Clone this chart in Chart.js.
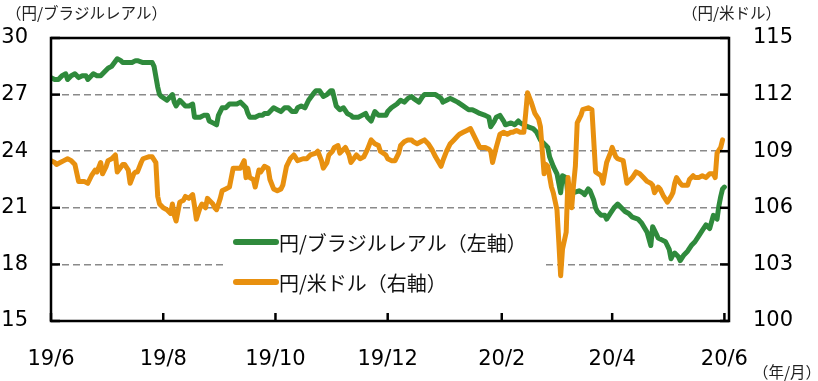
<!DOCTYPE html>
<html><head><meta charset="utf-8">
<script src="https://cdn.jsdelivr.net/npm/chart.js@4/dist/chart.umd.min.js"></script>
<style>html,body{margin:0;padding:0;background:#fff;}canvas{display:block;}</style>
</head><body>
<canvas id="c" width="818" height="381"></canvas>
<script>
// ---- data ----
const startDate = '2019-06-01';
const tickDates = ['2019-06-01','2019-08-01','2019-10-01','2019-12-01','2020-02-01','2020-04-01','2020-06-01'];
const tickLabels = ['19/6','19/8','19/10','19/12','20/2','20/4','20/6'];
const leftTicks = [15,18,21,24,27,30];
const rightTicks = [100,103,106,109,112,115];
const seriesNames = ['円/ブラジルレアル（左軸）','円/米ドル（右軸）'];

const brlDates = [
'2019-06-01','2019-06-03','2019-06-05','2019-06-07','2019-06-09','2019-06-10','2019-06-12','2019-06-14','2019-06-16','2019-06-18','2019-06-20','2019-06-21','2019-06-24','2019-06-26','2019-06-28','2019-06-30',
'2019-07-02','2019-07-04','2019-07-07','2019-07-09','2019-07-10','2019-07-13','2019-07-15','2019-07-17','2019-07-18','2019-07-21','2019-07-24','2019-07-26','2019-07-27','2019-07-29','2019-07-30','2019-07-31',
'2019-08-03','2019-08-06','2019-08-07','2019-08-08','2019-08-10','2019-08-12','2019-08-13','2019-08-15','2019-08-17','2019-08-18','2019-08-21','2019-08-23','2019-08-25','2019-08-26','2019-08-28','2019-08-30','2019-08-31',
'2019-09-02','2019-09-04','2019-09-06','2019-09-08','2019-09-10','2019-09-12','2019-09-13','2019-09-15','2019-09-16','2019-09-17','2019-09-20','2019-09-22','2019-09-24','2019-09-25','2019-09-27','2019-09-30',
'2019-10-02','2019-10-04','2019-10-06','2019-10-08','2019-10-10','2019-10-12','2019-10-13','2019-10-15','2019-10-17','2019-10-19','2019-10-22','2019-10-23','2019-10-25','2019-10-27','2019-10-29','2019-10-31',
'2019-11-01','2019-11-03','2019-11-05','2019-11-07','2019-11-09','2019-11-11','2019-11-12','2019-11-15','2019-11-17','2019-11-19','2019-11-20','2019-11-22','2019-11-24','2019-11-26','2019-11-27','2019-11-30',
'2019-12-01','2019-12-03','2019-12-06','2019-12-08','2019-12-10','2019-12-12','2019-12-14','2019-12-15','2019-12-18','2019-12-20','2019-12-21','2019-12-23','2019-12-25','2019-12-27','2019-12-30','2019-12-31',
'2020-01-02','2020-01-04','2020-01-06','2020-01-08','2020-01-11','2020-01-14','2020-01-16','2020-01-18','2020-01-20','2020-01-23','2020-01-25','2020-01-26','2020-01-28','2020-01-29','2020-01-31',
'2020-02-02','2020-02-03','2020-02-06','2020-02-08','2020-02-10','2020-02-11','2020-02-13','2020-02-15','2020-02-18','2020-02-20','2020-02-22','2020-02-24','2020-02-25','2020-02-26','2020-02-27','2020-02-29',
'2020-03-02','2020-03-03','2020-03-04','2020-03-05','2020-03-07','2020-03-08','2020-03-09','2020-03-11','2020-03-14','2020-03-16','2020-03-17','2020-03-19','2020-03-20','2020-03-22','2020-03-23','2020-03-24','2020-03-26','2020-03-28','2020-03-29','2020-03-31',
'2020-04-02','2020-04-04','2020-04-06','2020-04-08','2020-04-10','2020-04-12','2020-04-15','2020-04-17','2020-04-20','2020-04-22','2020-04-23','2020-04-25','2020-04-26','2020-04-28','2020-04-30',
'2020-05-02','2020-05-03','2020-05-04','2020-05-05','2020-05-07','2020-05-08','2020-05-10','2020-05-12','2020-05-14','2020-05-16','2020-05-18','2020-05-20','2020-05-22','2020-05-23','2020-05-24','2020-05-26','2020-05-28','2020-05-29','2020-05-30','2020-05-31','2020-06-01'
];
const brlValues = [
27.9,27.8,27.8,28.0,28.1,27.8,28.0,28.1,27.9,28.0,28.0,27.8,28.1,28.0,28.0,28.2,
28.4,28.5,28.9,28.8,28.7,28.7,28.7,28.8,28.8,28.7,28.7,28.7,28.5,27.4,27.0,26.9,
26.7,27.0,26.6,26.4,26.7,26.5,26.4,26.4,26.5,25.8,25.8,25.9,25.9,25.6,25.5,25.4,25.9,
26.3,26.3,26.5,26.5,26.5,26.6,26.5,26.3,26.0,25.8,25.8,25.9,25.9,26.0,26.0,26.3,
26.2,26.1,26.3,26.3,26.1,26.1,26.3,26.4,26.3,26.7,27.1,27.2,27.2,26.9,27.0,27.2,
27.2,26.4,26.2,26.3,26.0,25.9,25.8,25.8,25.9,26.0,25.8,25.6,26.1,25.9,25.9,25.9,
26.1,26.3,26.5,26.7,26.6,26.8,26.9,26.8,26.6,26.9,27.0,27.0,27.0,27.0,26.8,26.6,
26.7,26.8,26.7,26.6,26.4,26.2,26.2,26.1,26.0,25.9,25.8,25.3,25.6,25.8,25.9,
25.6,25.4,25.5,25.4,25.6,25.5,25.4,25.3,25.2,25.0,24.6,24.4,24.3,24.2,23.7,23.2,
22.8,22.3,21.8,22.7,22.6,21.6,21.8,21.8,21.9,21.8,21.7,22.0,21.9,21.4,21.0,20.8,20.6,20.6,20.4,20.7,
21.0,21.2,21.0,20.8,20.7,20.5,20.4,20.2,19.7,19.0,20.0,19.6,19.4,19.3,19.2,
18.8,18.3,18.5,18.6,18.4,18.2,18.5,18.7,19.0,19.2,19.5,19.8,20.1,20.0,19.9,20.6,20.4,21.1,21.6,22.0,22.1
];

const usdDates = [
'2019-06-01','2019-06-03','2019-06-04','2019-06-06','2019-06-08','2019-06-10','2019-06-12','2019-06-14','2019-06-16','2019-06-18','2019-06-19','2019-06-21','2019-06-23','2019-06-25','2019-06-26','2019-06-28','2019-06-29',
'2019-07-01','2019-07-02','2019-07-04','2019-07-06','2019-07-07','2019-07-10','2019-07-11','2019-07-13','2019-07-14','2019-07-16','2019-07-17','2019-07-18','2019-07-20','2019-07-21','2019-07-24','2019-07-26','2019-07-28','2019-07-29','2019-07-30',
'2019-08-01','2019-08-03','2019-08-05','2019-08-06','2019-08-07','2019-08-08','2019-08-10','2019-08-12','2019-08-13','2019-08-15','2019-08-17','2019-08-18','2019-08-19','2019-08-21','2019-08-22','2019-08-24','2019-08-25','2019-08-26','2019-08-28','2019-08-29','2019-08-30',
'2019-09-01','2019-09-02','2019-09-04','2019-09-06','2019-09-08','2019-09-10','2019-09-12','2019-09-13','2019-09-14','2019-09-15','2019-09-16','2019-09-17','2019-09-19','2019-09-20','2019-09-22','2019-09-23','2019-09-25','2019-09-27','2019-09-28','2019-09-30',
'2019-10-02','2019-10-04','2019-10-05','2019-10-07','2019-10-09','2019-10-11','2019-10-13','2019-10-16','2019-10-18','2019-10-20','2019-10-23','2019-10-24','2019-10-26','2019-10-27','2019-10-29','2019-10-30',
'2019-11-01','2019-11-02','2019-11-04','2019-11-05','2019-11-08','2019-11-10','2019-11-11','2019-11-14','2019-11-16','2019-11-18','2019-11-20','2019-11-22','2019-11-24','2019-11-26','2019-11-27','2019-11-30',
'2019-12-01','2019-12-03','2019-12-05','2019-12-07','2019-12-08','2019-12-10','2019-12-12','2019-12-14','2019-12-15','2019-12-17','2019-12-19','2019-12-21','2019-12-23','2019-12-25','2019-12-27','2019-12-30','2019-12-31',
'2020-01-02','2020-01-04','2020-01-06','2020-01-08','2020-01-09','2020-01-11','2020-01-13','2020-01-15','2020-01-17','2020-01-18','2020-01-20','2020-01-23','2020-01-25','2020-01-26','2020-01-27','2020-01-29','2020-01-31',
'2020-02-02','2020-02-04','2020-02-06','2020-02-07','2020-02-09','2020-02-11','2020-02-13','2020-02-14','2020-02-15','2020-02-17','2020-02-19','2020-02-21','2020-02-22','2020-02-24','2020-02-25','2020-02-26','2020-02-28','2020-02-29',
'2020-03-02','2020-03-03','2020-03-04','2020-03-05','2020-03-07','2020-03-08','2020-03-09','2020-03-10','2020-03-11','2020-03-12','2020-03-13','2020-03-15','2020-03-16','2020-03-19','2020-03-21','2020-03-23','2020-03-26','2020-03-27','2020-03-29','2020-03-31',
'2020-04-01','2020-04-03','2020-04-04','2020-04-07','2020-04-08','2020-04-09','2020-04-11','2020-04-12','2020-04-14','2020-04-16','2020-04-18','2020-04-20','2020-04-22','2020-04-23','2020-04-24','2020-04-26','2020-04-27','2020-04-29',
'2020-05-01','2020-05-03','2020-05-04','2020-05-05','2020-05-06','2020-05-08','2020-05-09','2020-05-12','2020-05-13','2020-05-15','2020-05-16','2020-05-18','2020-05-20','2020-05-22','2020-05-24','2020-05-26','2020-05-27','2020-05-28','2020-05-30','2020-05-31'
];
const usdValues = [
108.5,108.4,108.3,108.4,108.5,108.6,108.5,108.3,107.4,107.4,107.4,107.3,107.7,108.0,107.9,108.4,107.8,
108.2,108.5,108.6,108.8,107.9,108.3,108.3,108.0,107.3,107.8,107.9,107.9,108.4,108.6,108.7,108.7,108.4,106.6,106.2,
106.0,105.9,105.7,106.2,105.6,105.3,106.3,106.4,106.6,106.5,106.7,106.1,105.4,106.0,106.2,106.0,106.5,106.4,106.2,106.0,105.9,
106.5,106.9,107.0,107.1,108.1,108.1,108.1,108.3,108.5,107.6,108.1,107.6,107.5,107.1,108.0,107.9,108.2,108.1,107.5,107.0,
106.9,107.0,107.2,108.2,108.6,108.8,108.5,108.6,108.6,108.8,108.9,109.0,108.5,108.1,108.4,108.8,
109.0,109.2,109.3,108.9,109.2,108.8,108.4,108.8,108.6,108.7,109.1,109.6,109.4,109.3,109.0,108.8,
108.6,108.5,108.5,108.9,109.3,109.5,109.6,109.6,109.5,109.4,109.5,109.6,109.4,109.1,108.7,108.2,108.5,
109.0,109.4,109.6,109.8,109.9,110.0,110.1,110.2,109.8,109.6,109.2,109.2,109.1,109.0,108.4,109.2,109.9,
110.0,109.9,110.0,110.0,110.1,110.0,110.0,111.0,112.1,111.6,111.0,110.7,110.3,107.8,108.3,108.2,107.1,106.8,
105.9,104.2,102.4,103.8,104.7,107.6,106.6,106.0,107.2,108.2,110.5,110.9,111.2,111.3,111.2,107.9,107.7,107.3,108.4,108.9,
109.2,108.7,108.6,108.5,107.9,107.3,107.5,107.6,107.9,107.8,107.6,107.4,107.3,107.2,106.8,107.1,107.0,106.6,
106.3,106.6,106.8,107.3,107.6,107.3,107.2,107.2,107.5,107.7,107.6,107.6,107.7,107.6,107.8,107.8,107.6,108.9,109.2,109.6
];

// ---- helpers ----
const DAY = 864e5;
function dayOf(s){ return (Date.parse(s+'T00:00:00Z') - Date.parse(startDate+'T00:00:00Z')) / DAY; }
const brlPoints = brlDates.map((d,i)=>({x:dayOf(d), y:brlValues[i]}));
const usdPoints = usdDates.map((d,i)=>({x:dayOf(d), y:usdValues[i]}));
const xMax = dayOf('2020-06-01') + 2.5;

const GREEN = '#2f8a3c', ORANGE = '#e8900f';
const NUM_FONT = {family:'"DejaVu Sans", Verdana, sans-serif', size:21};
const JP = '"Noto Sans CJK JP", "Noto Sans", sans-serif';

function seg(ctx,x1,y1,x2,y2){ ctx.beginPath(); ctx.moveTo(x1,y1); ctx.lineTo(x2,y2); ctx.stroke(); }

const decor = {
  id:'decor',
  beforeDatasetsDraw(chart){
    const ctx = chart.ctx;
    ctx.save(); ctx.fillStyle = '#fff'; ctx.fillRect(223, 222, 320, 78); ctx.restore();
  },
  afterDatasetsDraw(chart){
    const {ctx, chartArea:a, scales} = chart;
    ctx.save();
    ctx.strokeStyle = '#000'; ctx.lineWidth = 2.5;
    ctx.strokeRect(a.left, a.top, a.right-a.left, a.bottom-a.top);
    leftTicks.forEach(v=>{ const y = scales.y.getPixelForValue(v); seg(ctx, a.left, y, a.left+9, y); });
    rightTicks.forEach(v=>{ const y = scales.y1.getPixelForValue(v); seg(ctx, a.right-9, y, a.right, y); });
    tickDates.forEach(d=>{ const x = scales.x.getPixelForValue(dayOf(d)); seg(ctx, x, a.bottom-8, x, a.bottom); });

    // legend
    const items = [[GREEN, seriesNames[0], 242], [ORANGE, seriesNames[1], 282]];
    ctx.lineCap = 'round'; ctx.lineWidth = 6;
    ctx.font = '20px ' + JP; ctx.textBaseline = 'middle'; ctx.textAlign = 'left'; ctx.fillStyle = '#111';
    items.forEach(([c, t, y])=>{
      ctx.strokeStyle = c; seg(ctx, 236, y, 276, y);
      ctx.fillText(t, 279, y+1);
    });

    // axis unit titles
    ctx.font = '15.5px ' + JP; ctx.fillStyle = '#222';
    ctx.fillText('（円/ブラジルレアル）', 6, 13);
    ctx.fillText('（円/米ドル）', 682, 13);
    ctx.fillText('（年/月）', 753, 372);
    ctx.restore();
  }
};

new Chart(document.getElementById('c'), {
  type:'line',
  data:{
    datasets:[
      {label:seriesNames[0], data:brlPoints, yAxisID:'y', borderColor:GREEN, borderWidth:5, pointRadius:0, tension:0, borderJoinStyle:'round', borderCapStyle:'round', order:1},
      {label:seriesNames[1], data:usdPoints, yAxisID:'y1', borderColor:ORANGE, borderWidth:5, pointRadius:0, tension:0, borderJoinStyle:'round', borderCapStyle:'round', order:0}
    ]
  },
  options:{
    responsive:false, animation:false, devicePixelRatio:1,
    layout:{padding:{top:38, left:0, right:0, bottom:0}},
    plugins:{legend:{display:false}, tooltip:{enabled:false}},
    scales:{
      x:{
        type:'linear', min:0, max:xMax,
        afterBuildTicks(s){ s.ticks = tickDates.map(d=>({value:dayOf(d)})); },
        afterFit(s){ s.height = 60; },
        grid:{display:false}, border:{display:false},
        ticks:{autoSkip:false, maxRotation:0, padding:18, color:'#000', font:NUM_FONT,
          callback:(v,i)=>tickLabels[i]}
      },
      y:{
        position:'left', min:15, max:30,
        afterBuildTicks(s){ s.ticks = leftTicks.map(v=>({value:v})); },
        afterFit(s){ s.width = 51; },
        grid:{drawTicks:false, lineWidth:1.6,
          color:c=>(c.tick && c.tick.value>15 && c.tick.value<30) ? '#8a8a8a' : 'rgba(0,0,0,0)'},
        border:{display:false, dash:[7,4]},
        ticks:{padding:23, color:'#000', font:NUM_FONT}
      },
      y1:{
        position:'right', min:100, max:115,
        afterBuildTicks(s){ s.ticks = rightTicks.map(v=>({value:v})); },
        afterFit(s){ s.width = 89; },
        grid:{display:false, drawTicks:false}, border:{display:false},
        ticks:{padding:24, color:'#000', font:NUM_FONT}
      }
    }
  },
  plugins:[decor]
});
</script>
</body></html>
